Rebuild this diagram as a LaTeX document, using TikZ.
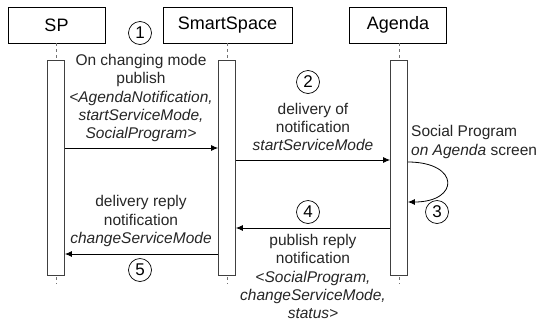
\documentclass[tikz,border=0pt]{standalone}
\usepackage{fontspec}
\setmainfont{Liberation Sans}
\usetikzlibrary{arrows.meta}
\begin{document}
\begin{tikzpicture}[x=1pt,y=-1pt,
  actor/.style={draw=black, line width=0.8pt, minimum height=36pt, inner sep=0pt, font=\fontsize{18}{21}\selectfont},
  bar/.style={draw=black!75, fill=white, line width=0.8pt, minimum width=17pt, minimum height=215pt, inner sep=0pt, anchor=north},
  life/.style={draw=black!55, dash pattern=on 3pt off 3pt, line width=0.7pt},
  msg/.style={draw=black, line width=0.8pt, -{Latex[length=7pt,width=6pt]}},
  lbl/.style={align=center, font=\fontsize{15.5}{18.3}\selectfont, inner sep=0pt, text=black!85},
  num/.style={circle, draw=black, line width=0.7pt, minimum size=23pt, inner sep=0pt, font=\fontsize{17}{17}\selectfont}
]
\useasboundingbox[fill=white] (0,0) rectangle (540,322);

% actors
\node[actor, minimum width=97pt] (sp) at (56.5,25) {SP};
\node[actor, minimum width=129pt] (ss) at (227.5,25) {SmartSpace};
\node[actor, minimum width=97pt] (ag) at (398,25) {Agenda};

% lifelines
\coordinate (spend) at (56,284);
\coordinate (ssend) at (227,284);
\coordinate (agend) at (399,284);
\draw[life] (sp.south -| spend) -- (spend);
\draw[life] (ss.south -| ssend) -- (ssend);
\draw[life] (ag.south -| agend) -- (agend);

% activation bars
\node[bar] (spbar) at (56,60) {};
\node[bar] (ssbar) at (227,60) {};
\node[bar] (agbar) at (399,60) {};

% messages
\draw[msg] (spbar.east |- 0,148) -- (ssbar.west |- 0,148);
\draw[msg] (ssbar.east |- 0,160) -- (agbar.west |- 0,160);
\draw[msg] (agbar.east |- 0,162) .. controls (460,162) and (460,202) .. (agbar.east |- 0,202);
\draw[msg] (agbar.west |- 0,228) -- (ssbar.east |- 0,228);
\draw[msg] (ssbar.west |- 0,254) -- (spbar.east |- 0,254);

% labels
\node[lbl] (l1) at (141,98) {On changing mode\\publish\\\textit{<AgendaNotification,}\\\textit{startServiceMode,}\\\textit{SocialProgram>}};
\node[lbl] (l2) at (313,127) {delivery of\\notification\\\textit{startServiceMode}};
\node[lbl, anchor=west, align=left] (l3) at (411,142) {Social Program\\\textit{on Agenda} screen};
\node[lbl] (l4) at (313,276.5) {publish reply\\notification\\\textit{<SocialProgram,}\\\textit{changeServiceMode,}\\\textit{status>}};
\node[lbl] (l5) at (141,221) {delivery reply\\notification\\\textit{changeServiceMode}};

% step numbers
\node[num] (n1) at (140,33) {1};
\node[num] (n2) at (308,82) {2};
\node[num] (n3) at (437,212) {3};
\node[num] (n4) at (308,212) {4};
\node[num] (n5) at (140,270) {5};
\end{tikzpicture}
\end{document}
